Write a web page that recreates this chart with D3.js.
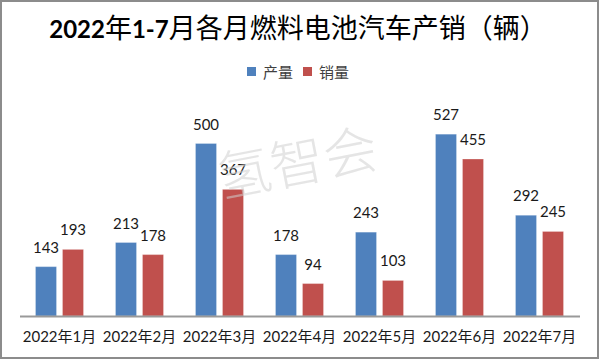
<!DOCTYPE html>
<html><head><meta charset="utf-8">
<script src="https://cdn.jsdelivr.net/npm/d3@7"></script>
<style>html,body{margin:0;padding:0;background:#fff;}</style>
</head><body>
<script>
const categories = ["2022年1月","2022年2月","2022年3月","2022年4月","2022年5月","2022年6月","2022年7月"];
const production = [143, 213, 500, 178, 243, 527, 292];
const sales = [193, 178, 367, 94, 103, 455, 245];
const seriesNames = ["产量", "销量"];
const colors = ["#4f81bd", "#c0504d"];
const title = "2022年1-7月各月燃料电池汽车产销（辆）";
const watermark = "氢智会";

const W = 600, H = 360;
const svg = d3.select("body").append("svg").attr("width", W).attr("height", H);
svg.append("rect").attr("x",0).attr("y",0).attr("width",W).attr("height",H).attr("fill","#fff");
svg.append("rect").attr("x",1).attr("y",1).attr("width",597).attr("height",357)
  .attr("fill","none").attr("stroke","#8c8c8c").attr("stroke-width",2);

const x = d3.scaleBand().domain(categories).range([19.5, 579.5]).padding(0);
const y = d3.scaleLinear().domain([0, 600]).range([316, 109]);
const bw = 21, gap = 3;

// title with mixed runs
const t = svg.append("text").attr("x", 298).attr("y", 38).attr("text-anchor","middle").attr("fill","#000");
const runs = title.match(/[0-9\-]+|[^0-9\-]+/g);
runs.forEach(r => {
  const isNum = /^[0-9\-]+$/.test(r);
  t.append("tspan").text(r)
    .attr("font-family", isNum ? "Lato, 'Liberation Sans', sans-serif" : "'Noto Sans CJK SC', sans-serif")
    .attr("font-weight", isNum ? 700 : 400)
    .attr("font-size", isNum ? 24 : 27);
});

// watermark (behind bars visually blended)
const wm = () => svg.append("text").attr("x", 0).attr("y", 0)
  .attr("transform", "translate(301,182) rotate(-11)")
  .attr("text-anchor","middle")
  .attr("font-family","'Noto Sans CJK SC', sans-serif").attr("font-weight", 300).attr("font-size", 54)
  .text(watermark);

// legend
const legX = [247, 303];
seriesNames.forEach((n,i) => {
  svg.append("rect").attr("x", legX[i]).attr("y", 67).attr("width", 9).attr("height", 9).attr("fill", colors[i]);
  svg.append("text").attr("x", legX[i] + 16).attr("y", 78).text(n)
    .attr("font-family","'Noto Sans CJK SC', sans-serif").attr("font-size", 15).attr("fill","#404040");
});

const data = [production, sales];
data.forEach((vals, s) => {
  const g = svg.append("g");
  g.selectAll("rect").data(vals).join("rect")
    .attr("x", (d,i) => s === 0 ? x(categories[i]) + x.bandwidth()/2 - gap - bw : x(categories[i]) + x.bandwidth()/2 + gap)
    .attr("y", d => y(d))
    .attr("width", bw)
    .attr("height", d => y(0) - y(d))
    .attr("fill", colors[s])
    .attr("stroke", "rgba(255,255,255,0.25)").attr("stroke-width", 1);
  g.selectAll("text").data(vals).join("text")
    .attr("x", (d,i) => s === 0 ? x(categories[i]) + x.bandwidth()/2 - gap - bw/2 : x(categories[i]) + x.bandwidth()/2 + gap + bw/2)
    .attr("y", d => y(d) - 14)
    .attr("text-anchor","middle")
    .attr("font-family","Lato, 'Liberation Sans', sans-serif").attr("font-size", 15).attr("fill","#1a1a1a")
    .text(d => d);
});

// axis
const axis = svg.append("g").attr("transform", "translate(0,316)")
  .call(d3.axisBottom(x).tickSize(0).tickPadding(0));
axis.select(".domain").attr("stroke","#999").attr("stroke-width",2);
axis.selectAll("text").attr("dy", null).attr("y", 26)
  .attr("font-family","Lato, 'Noto Sans CJK SC', sans-serif").attr("font-size", 15).attr("fill","#1a1a1a");

wm().attr("fill","#cfcfcf").attr("fill-opacity", 0.55);
</script>
</body></html>
